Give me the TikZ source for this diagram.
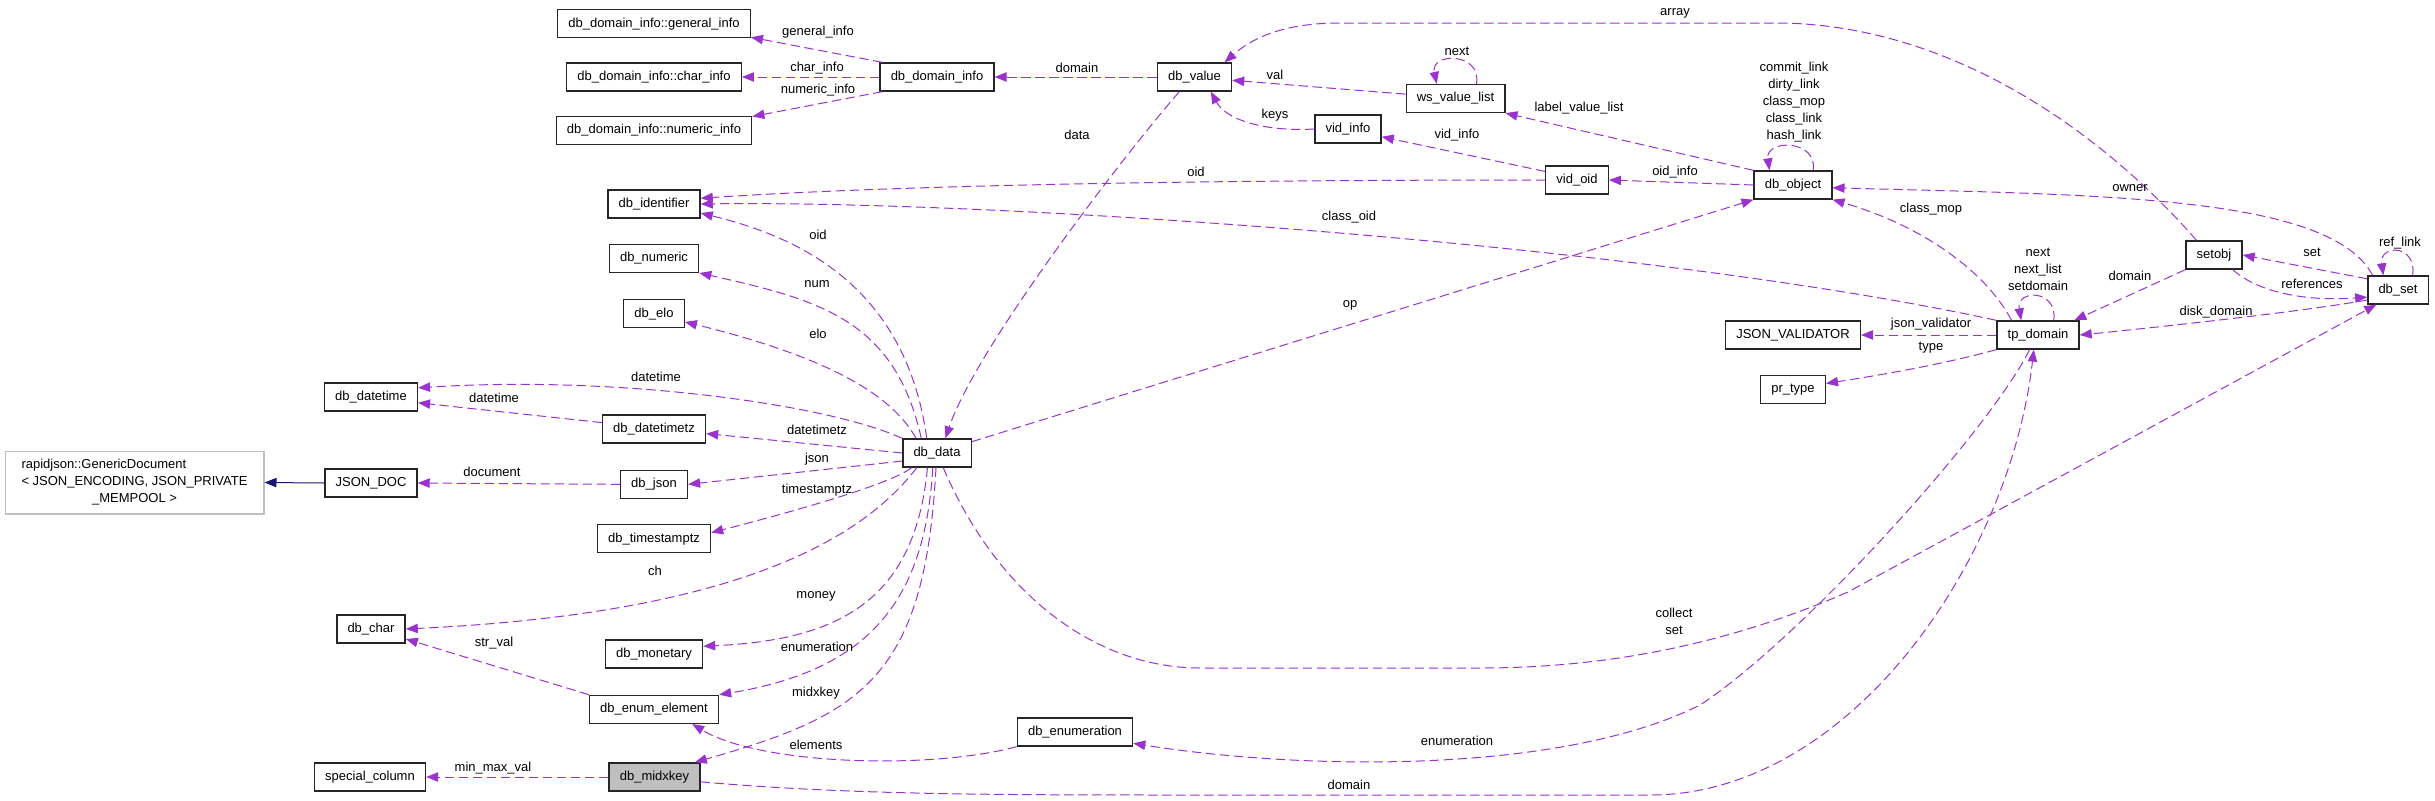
\documentclass[tikz,border=0pt]{standalone}
\usepackage{fontspec}
\setsansfont{Liberation Sans}
\usepackage{xcolor}
\usepackage{tikz}
\usetikzlibrary{arrows.meta,positioning}
\definecolor{palPurple}{HTML}{9A32CD}
\definecolor{palNavy}{HTML}{191970}
\definecolor{palGray}{HTML}{BFBFBF}

\begin{document}
\begin{tikzpicture}[
  x=0.75pt, y=-0.75pt,
  font=\sffamily\fontsize{9.75}{12.75}\selectfont,
  cls/.style={draw=black!85, fill=white, line width=1pt, minimum height=21pt, inner xsep=8pt, inner ysep=2pt},
  focus/.style={cls, fill=palGray},
  ext/.style={cls, draw=palGray},
  membership/.style={draw=palPurple, line width=0.75pt, dash pattern=on 7pt off 3.5pt, -{Triangle[length=9pt, width=7pt]}},
  inheritance/.style={draw=palNavy, line width=0.75pt, -{Triangle[length=9pt, width=7pt]}},
  lbl/.style={inner sep=1pt, align=center},
]
\useasboundingbox (0,0) rectangle (2435,800);

% left columns
\node[ext, minimum width=194pt, minimum height=47pt] (rapidjson) at (134.5,482.5) {\begin{tabular}{@{}l@{}}rapidjson::GenericDocument\\< JSON\_ENCODING, JSON\_PRIVATE\\\multicolumn{1}{@{}c@{}}{\_MEMPOOL >}\end{tabular}};
\node[cls] (jsondoc) at (371,483) {JSON\_DOC};
\node[cls] (dbdatetime) at (371,397) {db\_datetime};
\node[cls] (dbchar) at (371,629) {db\_char};
\node[cls] (specialcolumn) at (370,777) {special\_column};

\node[cls] (charinfo) at (654,77) {db\_domain\_info::char\_info};
\node[cls, above=18pt of charinfo] (generalinfo) {db\_domain\_info::general\_info};
\node[cls, below=18pt of charinfo] (numericinfo) {db\_domain\_info::numeric\_info};
\node[cls] (dbidentifier) at (654,204) {db\_identifier};
\node[cls, below=18.75pt of dbidentifier] (dbnumeric) {db\_numeric};
\node[cls, below=19.5pt of dbnumeric] (dbelo) {db\_elo};
\node[cls] (dbdatetimetz) at (654,429) {db\_datetimetz};
\node[cls, below=19.5pt of dbdatetimetz] (dbjson) {db\_json};
\node[cls, below=18.75pt of dbjson] (dbtimestamptz) {db\_timestamptz};
\node[cls] (dbmonetary) at (654,654) {db\_monetary};
\node[cls, below=19.5pt of dbmonetary] (dbenumelement) {db\_enum\_element};
\node[focus] (dbmidxkey) at (654.5,777) {db\_midxkey};

% middle
\node[cls] (dbdata) at (937,453) {db\_data};
\node[cls] (dbdomaininfo) at (937,77) {db\_domain\_info};
\node[cls] (dbvalue) at (1194.5,77) {db\_value};
\node[cls] (wsvaluelist) at (1455.5,98.5) {ws\_value\_list};
\node[cls] (vidinfo) at (1348,129) {vid\_info};
\node[cls] (vidoid) at (1577,180) {vid\_oid};
\node[cls] (dbenumeration) at (1075,732) {db\_enumeration};

% right
\node[cls] (dbobject) at (1793,185) {db\_object};
\node[cls] (jsonvalidator) at (1793,335) {JSON\_VALIDATOR};
\node[cls, below=18.75pt of jsonvalidator] (prtype) {pr\_type};
\node[cls] (tpdomain) at (2038,335) {tp\_domain};
\node[cls] (setobj) at (2214,255) {setobj};
\node[cls] (dbset) at (2398,290) {db\_set};

% edges
\draw[inheritance] (jsondoc.west) -- (rapidjson.east);
\draw[membership] (dbdomaininfo.165) -- (generalinfo.-8);
\draw[membership] (dbdomaininfo.west) -- (charinfo.east);
\draw[membership] (dbdomaininfo.195) -- (numericinfo.8);
\draw[membership] (dbvalue.west) -- (dbdomaininfo.east);
\draw[membership] (wsvaluelist.175) -- (dbvalue.-5);
\draw[membership] (wsvaluelist.35) .. controls (1482,52) and (1430,52) .. (wsvaluelist.142);
\draw[membership] (vidinfo.west) .. controls (1260,132) and (1225,118) .. (dbvalue.-42);
\draw[membership] (vidoid.165) -- (vidinfo.-13);
\draw[membership] (dbobject.north west) -- (wsvaluelist.south east);
\draw[membership] (dbobject.west) -- (vidoid.east);
\draw[membership] (dbobject.36) .. controls (1818,139) and (1765,139) .. (dbobject.148);
\draw[membership] (vidoid.west) .. controls (1200,180) and (900,185) .. (dbidentifier.7);
\draw[membership] (tpdomain.north west) .. controls (1650,245) and (1000,200) .. (dbidentifier.east);

\draw[membership] (dbdata.125) .. controls (905,280) and (790,235) .. (dbidentifier.-11);
\draw[membership] (dbdata.137) .. controls (895,320) and (820,300) .. (dbnumeric.south east);
\draw[membership] (dbdata.145) .. controls (895,400) and (840,360) .. (dbelo.-15);
\draw[membership] (dbdata.north west) .. controls (830,405) and (620,375) .. (dbdatetime.11);
\draw[membership] (dbdata.west) -- (dbdatetimetz.-5);
\draw[membership] (dbdata.193) -- (dbjson.east);
\draw[membership] (dbdata.210) .. controls (890,485) and (780,515) .. (dbtimestamptz.6);
\draw[membership] (dbdata.216) .. controls (850,555) and (700,615) .. (dbchar.east);
\draw[membership] (dbdata.237) .. controls (915,600) and (840,640) .. (dbmonetary.9);
\draw[membership] (dbdata.254) .. controls (925,600) and (870,670) .. (dbenumelement.north east);
\draw[membership] (dbdata.266) .. controls (925,680) and (860,715) .. (dbmidxkey.20);
\draw[membership] (dbvalue.224) .. controls (1120,160) and (975,350) .. (dbdata.60);
\draw[membership] (dbdata.18) -- (dbobject.south west);
\draw[membership] (dbdata.-67) .. controls (1000,600) and (1100,668) .. (1200,668) -- (1480,668) .. controls (1640,668) and (1760,630) .. (1848,592) -- (dbset.214);

\draw[membership] (dbenumeration.south west) .. controls (930,770) and (760,765) .. (dbenumelement.-21);
\draw[membership] (tpdomain.240) .. controls (1990,430) and (1800,640) .. (1700,705) .. controls (1560,775) and (1300,770) .. (dbenumeration.-11);
\draw[membership] (dbmidxkey.-6) .. controls (850,795) and (1000,795) .. (1200,795) -- (1650,795) .. controls (1850,795) and (2010,560) .. (tpdomain.254);
\draw[membership] (dbenumelement.north west) -- (dbchar.-16);
\draw[membership] (dbmidxkey.west) -- (specialcolumn.east);
\draw[membership] (dbdatetimetz.173) -- (dbdatetime.-7);
\draw[membership] (dbjson.west) -- (jsondoc.east);

\draw[membership] (tpdomain.151) .. controls (1985,270) and (1920,225) .. (dbobject.south east);
\draw[membership] (tpdomain.43) .. controls (2058,289) and (2016,289) .. (tpdomain.139);
\draw[membership] (tpdomain.west) -- (jsonvalidator.east);
\draw[membership] (tpdomain.south west) .. controls (1940,365) and (1880,375) .. (prtype.10);
\draw[membership] (setobj.south west) -- (tpdomain.22);
\draw[membership] (dbset.160) -- (setobj.east);
\draw[membership] (setobj.-38) .. controls (2255,290) and (2300,302) .. (dbset.193);
\draw[membership] (dbset.198) .. controls (2300,312) and (2150,328) .. (tpdomain.east);
\draw[membership] (dbset.45) .. controls (2417,244) and (2379,244) .. (dbset.135);
\draw[membership] (dbset.150) .. controls (2330,195) and (2100,195) .. (dbobject.-4);
\draw[membership] (setobj.140) .. controls (2100,130) and (1950,25) .. (1780,23) -- (1340,23) .. controls (1280,23) and (1250,40) .. (dbvalue.26);

% edge labels
\node[lbl] (lgeneral) at (818,32) {general\_info};
\node[lbl] (lchar) at (817,68) {char\_info};
\node[lbl] (lnumeric) at (818,90) {numeric\_info};
\node[lbl] (ldomain) at (1077,68) {domain};
\node[lbl] (lval) at (1275,75) {val};
\node[lbl] (lnext) at (1457,51) {next};
\node[lbl] (lkeys) at (1275,115) {keys};
\node[lbl] (ldata) at (1077,135) {data};
\node[lbl] (lvidinfo) at (1457,135) {vid\_info};
\node[lbl] (llabel) at (1579,108) {label\_value\_list};
\node[lbl] (loidvid) at (1196,172) {oid};
\node[lbl] (loidinfo) at (1675,172) {oid\_info};
\node[lbl] (lclassoid) at (1349,217) {class\_oid};
\node[lbl] (larray) at (1675,13) {array};
\node[lbl] (lobjlinks) at (1794,102) {commit\_link\\dirty\_link\\class\_mop\\class\_link\\hash\_link};
\node[lbl] (lowner) at (2130,188) {owner};
\node[lbl] (lclassmop) at (1931,209) {class\_mop};
\node[lbl] (ltplinks) at (2038,269) {next\\next\_list\\setdomain};
\node[lbl] (lsetdomain) at (2130,276) {domain};
\node[lbl] (lset) at (2312,252) {set};
\node[lbl] (lrefs) at (2312,284) {references};
\node[lbl] (lreflink) at (2400,243) {ref\_link};
\node[lbl] (ldisk) at (2216,312) {disk\_domain};
\node[lbl] (ljsonval) at (1931,324) {json\_validator};
\node[lbl] (ltype) at (1931,348) {type};
\node[lbl] (lop) at (1350,305) {op};
\node[lbl] (lcollect) at (1674,621) {collect\\set};
\node[lbl] (lenumtp) at (1457,741) {enumeration};
\node[lbl] (lmidxdomain) at (1349,785) {domain};
\node[lbl] (lelements) at (816,745) {elements};
\node[lbl] (lmidxkey) at (816,693) {midxkey};
\node[lbl] (lenum) at (817,647) {enumeration};
\node[lbl] (lmoney) at (816,596) {money};
\node[lbl] (lch) at (655,571) {ch};
\node[lbl] (lstrval) at (494,643) {str\_val};
\node[lbl] (lminmax) at (493,768) {min\_max\_val};
\node[lbl] (ltstz) at (817,490) {timestamptz};
\node[lbl] (ljson) at (817,459) {json};
\node[lbl] (ldttz) at (817,430) {datetimetz};
\node[lbl] (ldocument) at (492,472) {document};
\node[lbl] (ldttzdt) at (494,398) {datetime};
\node[lbl] (ldt) at (656,377) {datetime};
\node[lbl] (lelo) at (818,334) {elo};
\node[lbl] (lnum) at (817,284) {num};
\node[lbl] (loid) at (818,235) {oid};
\end{tikzpicture}
\end{document}
